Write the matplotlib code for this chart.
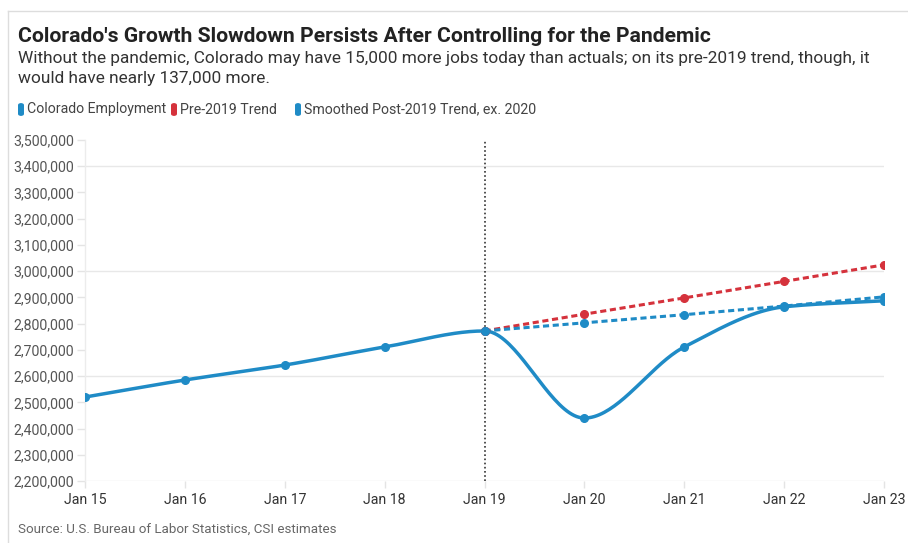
import numpy as np
import matplotlib.pyplot as plt
from matplotlib.patches import FancyBboxPatch
from matplotlib.lines import Line2D
from matplotlib.ticker import FuncFormatter, MultipleLocator

plt.rcParams["font.family"] = ["Roboto", "DejaVu Sans"]

years = [2015, 2016, 2017, 2018, 2019, 2020, 2021, 2022, 2023]
tick_labels = ["Jan 15", "Jan 16", "Jan 17", "Jan 18", "Jan 19",
               "Jan 20", "Jan 21", "Jan 22", "Jan 23"]
employment = [2520000, 2585000, 2642000, 2711000, 2772000,
              2440000, 2711000, 2864000, 2887000]
trend_years = [2019, 2020, 2021, 2022, 2023]
pre_trend = [2772000, 2836000, 2898000, 2961000, 3024000]
post_trend = [2772000, 2803000, 2834000, 2867000, 2902000]

BLUE = "#1f8bc6"
RED = "#d5323c"


def monotone_curve(x, y, n=40):
    # monotone cubic (Fritsch-Carlson) so the line bends like the original
    x = np.asarray(x, float)
    y = np.asarray(y, float)
    h = np.diff(x)
    d = np.diff(y) / h
    m = np.zeros_like(y)
    m[0], m[-1] = d[0], d[-1]
    for i in range(1, len(y) - 1):
        if d[i - 1] * d[i] <= 0:
            m[i] = 0
        else:
            w1 = 2 * h[i] + h[i - 1]
            w2 = h[i] + 2 * h[i - 1]
            m[i] = (w1 + w2) / (w1 / d[i - 1] + w2 / d[i])
    xs, ys = [], []
    for i in range(len(x) - 1):
        t = np.linspace(0, 1, n, endpoint=False)
        h00 = 2 * t**3 - 3 * t**2 + 1
        h10 = t**3 - 2 * t**2 + t
        h01 = -2 * t**3 + 3 * t**2
        h11 = t**3 - t**2
        xs.append(x[i] + t * h[i])
        ys.append(h00 * y[i] + h10 * h[i] * m[i] + h01 * y[i + 1] + h11 * h[i] * m[i + 1])
    xs.append([x[-1]])
    ys.append([y[-1]])
    return np.concatenate(xs), np.concatenate(ys)


fig = plt.figure(figsize=(9.08, 5.43), dpi=100)
ax = fig.add_axes([85 / 908, 1 - 481 / 543, (884 - 85) / 908, (481 - 140) / 543])

ax.set_xlim(2015, 2023)
ax.set_ylim(2200000, 3500000)

for g in [2200000, 2600000, 3000000, 3400000]:
    ax.axhline(g, color="#e8e8e8", lw=1, zorder=0)

ax.axvline(2019, color="#333333", lw=1.2, ls=(0, (1, 1.5)), zorder=1)

cx, cy = monotone_curve(years, employment)
ax.plot(cx, cy, color=BLUE, lw=2.5, zorder=3, solid_capstyle="round")
ax.plot(years, employment, "o", color=BLUE, ms=5.5, zorder=4)

ax.plot(trend_years, pre_trend, color=RED, lw=2.2, ls=(0, (2, 1.2)), zorder=3)
ax.plot(trend_years, pre_trend, "o", color=RED, ms=5.5, zorder=4)
ax.plot(trend_years, post_trend, color=BLUE, lw=2.2, ls=(0, (2, 1.2)), zorder=3)
ax.plot(trend_years, post_trend, "o", color=BLUE, ms=5.5, zorder=4)

ax.yaxis.set_major_locator(MultipleLocator(100000))
ax.yaxis.set_major_formatter(FuncFormatter(lambda v, p: f"{int(v):,}"))
ax.set_xticks(years)
ax.set_xticklabels(tick_labels)
ax.tick_params(axis="y", length=6, width=1, color="#e4e4e4", labelsize=10.2,
               labelcolor="#555555", pad=2)
ax.tick_params(axis="x", length=5, width=1, color="#e4e4e4", labelsize=10.2,
               labelcolor="#333333", pad=4)

for s in ["top", "right", "bottom"]:
    ax.spines[s].set_visible(False)
ax.spines["left"].set_color("#ececec")
ax.spines["left"].set_linewidth(1)

# card border
fig.add_artist(Line2D([8 / 908, 1], [1 - 11 / 543, 1 - 11 / 543], color="#dddddd", lw=1))
fig.add_artist(Line2D([8 / 908, 8 / 908], [0, 1 - 11 / 543], color="#dddddd", lw=1))

fig.text(18 / 908, 1 - 36 / 543, "Colorado's Growth Slowdown Persists After Controlling for the Pandemic",
         fontsize=15.2, fontweight="bold", color="#222222", va="center")
fig.text(18 / 908, 1 - 58 / 543,
         "Without the pandemic, Colorado may have 15,000 more jobs today than actuals; on its pre-2019 trend, though, it",
         fontsize=12.4, color="#333333", va="center")
fig.text(18 / 908, 1 - 78 / 543, "would have nearly 137,000 more.",
         fontsize=12.4, color="#333333", va="center")

legend_items = [("Colorado Employment", BLUE, 18), ("Pre-2019 Trend", RED, 171),
                ("Smoothed Post-2019 Trend, ex. 2020", BLUE, 295)]
for label, col, px in legend_items:
    box = FancyBboxPatch((px / 908, 1 - 116 / 543), 6 / 908, 13 / 543,
                         boxstyle="round,pad=0,rounding_size=0.004",
                         transform=fig.transFigure, color=col, lw=0)
    fig.add_artist(box)
    fig.text((px + 9) / 908, 1 - 109.5 / 543, label, fontsize=10.2,
             color="#444444", va="center")

fig.text(18 / 908, 1 - 529 / 543, "Source: U.S. Bureau of Labor Statistics, CSI estimates",
         fontsize=9.6, color="#666666", va="center")

fig.savefig("out.png", dpi=100)
